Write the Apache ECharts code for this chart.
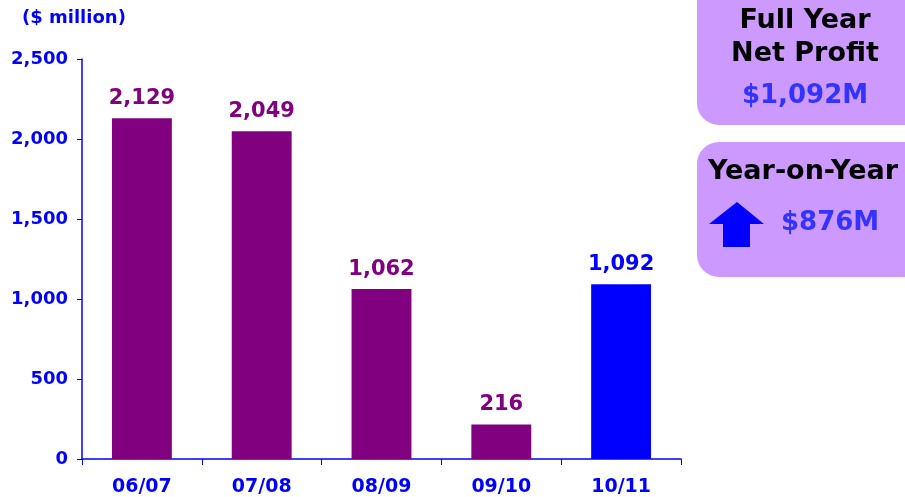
<!DOCTYPE html>
<html>
<head>
<meta charset="utf-8">
<script src="https://cdn.jsdelivr.net/npm/echarts@6/dist/echarts.min.js"></script>
<style>
    html, body {margin: 0; padding: 0; background: #fff;}
    #bar {width: 905px; height: 497px;}
</style>
</head>
<body>
<div id="bar"></div>
<script>
var categories = ['06/07', '07/08', '08/09', '09/10', '10/11'];
var profitValues = [2129, 2049, 1062, 216, 1092];
var barColors = ['#800080', '#800080', '#800080', '#800080', '#0000FF'];
var yTicks = [0, 500, 1000, 1500, 2000, 2500];

var FONT = '"DejaVu Sans", Verdana, sans-serif';
var BLUE = '#0000FF';
var BOX = '#CC99FF';

function fmt(v) {
    return String(v).replace(/\B(?=(\d{3})+(?!\d))/g, ',');
}

function initBarChart() {
    var myChart = echarts.init(document.getElementById('bar'));

    var seriesData = [];
    for (var i = 0; i < profitValues.length; i++) {
        seriesData.push({
            value: profitValues[i],
            itemStyle: {color: barColors[i]},
            label: {color: barColors[i]}
        });
    }

    var option = {
        animation: false,
        backgroundColor: '#fff',
        grid: {
            left: 82, right: 224, top: 59, bottom: 38,
            outerBoundsMode: 'none'
        },
        xAxis: {
            type: 'category',
            data: categories,
            axisLine: {lineStyle: {color: BLUE, width: 1.5}},
            axisTick: {show: true, length: 6, lineStyle: {color: BLUE}},
            axisLabel: {
                color: BLUE,
                fontFamily: FONT,
                fontWeight: 'bold',
                fontSize: 19,
                margin: 19
            }
        },
        yAxis: {
            type: 'value',
            min: yTicks[0],
            max: yTicks[yTicks.length - 1],
            interval: yTicks[1] - yTicks[0],
            splitLine: {show: false},
            axisLine: {show: true, lineStyle: {color: BLUE, width: 1.5}},
            axisTick: {show: true, length: 5, lineStyle: {color: BLUE}},
            axisLabel: {
                color: BLUE,
                fontFamily: FONT,
                fontWeight: 'bold',
                fontSize: 18,
                margin: 14,
                formatter: function(v) {
                    return fmt(v);
                }
            }
        },
        series: [
            {
                type: 'bar',
                barWidth: '50%',
                data: seriesData,
                label: {
                    show: true,
                    position: 'top',
                    distance: 9,
                    fontFamily: FONT,
                    fontWeight: 'bold',
                    fontSize: 21,
                    formatter: function(p) {
                        return fmt(p.value);
                    }
                }
            }
        ],
        graphic: [
            {
                type: 'text',
                left: 22,
                top: 9,
                style: {
                    text: '($ million)',
                    fill: BLUE,
                    font: 'bold 18px ' + FONT
                }
            },
            // summary boxes on the right
            {
                type: 'rect',
                shape: {x: 697, y: -30, width: 240, height: 155, r: 22},
                style: {fill: BOX}
            },
            {
                type: 'rect',
                shape: {x: 697, y: 142, width: 240, height: 135, r: 22},
                style: {fill: BOX}
            },
            {
                type: 'text',
                x: 805, y: 21,
                style: {
                    text: 'Full Year', fill: '#000', align: 'center',
                    verticalAlign: 'middle', font: 'bold 27px ' + FONT
                }
            },
            {
                type: 'text',
                x: 805, y: 54,
                style: {
                    text: 'Net Profit', fill: '#000', align: 'center',
                    verticalAlign: 'middle', font: 'bold 27px ' + FONT
                }
            },
            {
                type: 'text',
                x: 805, y: 96,
                style: {
                    text: '$1,092M', fill: '#3333FF', align: 'center',
                    verticalAlign: 'middle', font: 'bold 26px ' + FONT
                }
            },
            {
                type: 'text',
                x: 803, y: 172,
                style: {
                    text: 'Year-on-Year', fill: '#000', align: 'center',
                    verticalAlign: 'middle', font: 'bold 27px ' + FONT
                }
            },
            {
                type: 'polygon',
                shape: {
                    points: [[737, 202], [764, 224], [750, 224], [750, 247],
                        [723, 247], [723, 224], [709, 224]]
                },
                style: {fill: BLUE}
            },
            {
                type: 'text',
                x: 781, y: 223,
                style: {
                    text: '$876M', fill: '#3333FF', align: 'left',
                    verticalAlign: 'middle', font: 'bold 26px ' + FONT
                }
            }
        ]
    };
    myChart.setOption(option);
}

initBarChart();
</script>
</body>
</html>
